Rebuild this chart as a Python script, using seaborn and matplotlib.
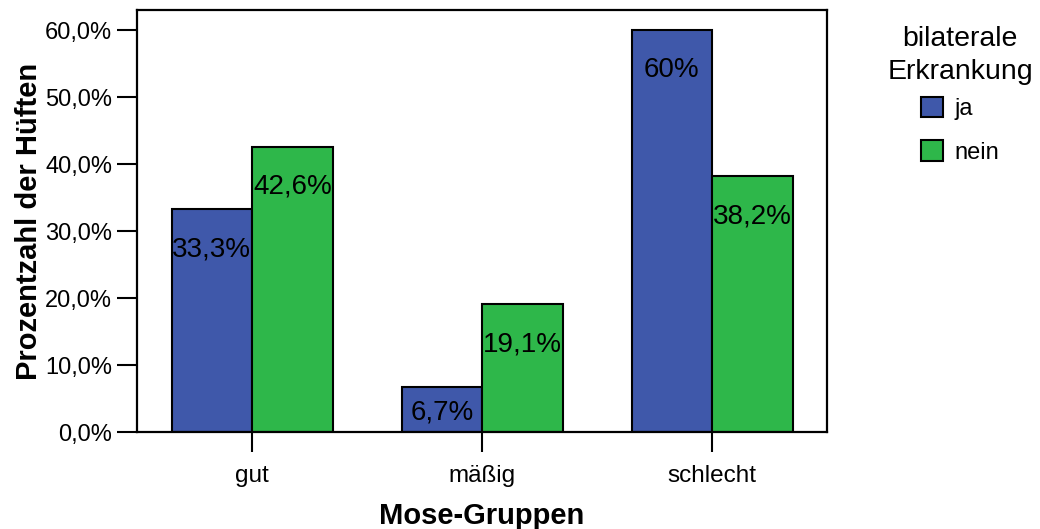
import matplotlib
matplotlib.use("Agg")
import matplotlib.pyplot as plt
import seaborn as sns
import pandas as pd
from matplotlib.ticker import FuncFormatter

# Anteil der Hüften je Mose-Gruppe, getrennt nach bilateraler Erkrankung
groups = ["gut", "mäßig", "schlecht"]
hue_levels = ["ja", "nein"]
values_ja = [33.3, 6.7, 60.0]
values_nein = [42.6, 19.1, 38.2]
bar_labels_ja = ["33,3%", "6,7%", "60%"]
bar_labels_nein = ["42,6%", "19,1%", "38,2%"]
colors = ["#3F58AA", "#2EB74A"]

df = pd.DataFrame({
    "Mose-Gruppen": groups * 2,
    "bilaterale Erkrankung": ["ja"] * 3 + ["nein"] * 3,
    "Prozent": values_ja + values_nein,
})

sns.set_theme(style="white")
plt.rcParams["font.family"] = ["Liberation Sans", "DejaVu Sans"]
plt.rcParams["text.color"] = "black"

fig = plt.figure(figsize=(10.4, 5.29), dpi=100)
ax = fig.add_axes([137 / 1040, 1 - 432 / 529, 690 / 1040, 422 / 529])

sns.barplot(data=df, x="Mose-Gruppen", y="Prozent", hue="bilaterale Erkrankung",
            order=groups, hue_order=hue_levels, palette=colors, width=0.7,
            edgecolor="black", linewidth=1.5, saturation=1, ax=ax)

ax.set_xlim(-0.5, 2.5)
ax.set_ylim(0, 63)
ax.set_yticks([0, 10, 20, 30, 40, 50, 60])
ax.yaxis.set_major_formatter(FuncFormatter(lambda v, p: f"{v:.1f}%".replace(".", ",")))

# Beschriftungen innerhalb der Balken
all_labels = [bar_labels_ja, bar_labels_nein]
for container, labels, vals in zip(ax.containers, all_labels, [values_ja, values_nein]):
    for rect, lab, v in zip(container, labels, vals):
        cx = rect.get_x() + rect.get_width() / 2
        y = max(v - 6.0, 2.9)
        ax.text(cx, y, lab, ha="center", va="center", fontsize=20, color="black")

for side in ["top", "right", "bottom", "left"]:
    ax.spines[side].set_visible(True)
    ax.spines[side].set_color("black")
    ax.spines[side].set_linewidth(1.6)

ax.tick_params(axis="y", which="major", direction="out", length=14.5, width=1.5,
               color="black", labelsize=17, pad=3.5, left=True)
ax.tick_params(axis="x", which="major", direction="out", length=14.5, width=1.5,
               color="black", labelsize=17.5, pad=9, bottom=True)
for t in ax.get_xticklabels() + ax.get_yticklabels():
    t.set_color("black")

ax.set_xlabel("Mose-Gruppen", fontsize=21, fontweight="bold", color="black", labelpad=11)
ax.set_ylabel("Prozentzahl der Hüften", fontsize=21, fontweight="bold", color="black", labelpad=1)

handles, labels = ax.get_legend_handles_labels()
ax.get_legend().remove()
leg = fig.legend(handles, labels, title="bilaterale\nErkrankung",
                 loc="upper center", bbox_to_anchor=(960 / 1040, 1 - 5 / 529),
                 frameon=False, fontsize=17, title_fontsize=20.5,
                 handlelength=0.95, handleheight=0.95, handletextpad=0.5,
                 labelspacing=0.85)
# engerer Abstand zwischen Legendentitel und Einträgen
leg._legend_box.sep = 8.5
leg.get_title().set_multialignment("center")
leg.get_title().set_linespacing(1.35)
leg.get_title().set_color("black")
for t in leg.get_texts():
    t.set_color("black")
for h in leg.legend_handles:
    h.set_edgecolor("black")
    h.set_linewidth(1.5)

fig.savefig("out.png", dpi=100)
